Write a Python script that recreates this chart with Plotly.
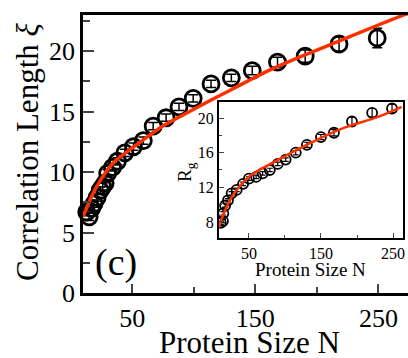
import plotly.graph_objects as go

# Main panel: correlation length vs protein size
main_N = [13, 15, 17, 19, 21.5, 24, 26, 28, 30, 34, 38, 44, 51, 59, 67, 77.5, 88, 99.5, 114, 130.5, 147.5, 168, 190.5, 218, 249]
main_xi = [6.7, 6.3, 7.0, 7.4, 7.9, 8.5, 8.8, 9.1, 9.9, 10.4, 10.9, 11.6, 12.1, 12.6, 13.8, 14.5, 15.4, 16.1, 17.3, 17.8, 18.4, 19.1, 19.6, 20.6, 21.1]
main_err = [0.3, 0.3, 0.3, 0.3, 0.3, 0.3, 0.3, 0.3, 0.3, 0.3, 0.3, 0.3, 0.3, 0.3, 0.3, 0.3, 0.3, 0.3, 0.3, 0.3, 0.35, 0.4, 0.5, 0.6, 0.8]

main_fit_N = [10, 20, 34, 50, 62, 73, 89, 111, 130, 165, 217, 268, 276]
main_fit_xi = [6.3, 8.6, 10.7, 12.0, 12.9, 13.7, 14.6, 15.8, 16.8, 18.6, 20.8, 22.9, 23.2]

# Inset: radius of gyration vs protein size
ins_N = [11, 14, 14.5, 17, 21, 26, 33, 42, 50, 60, 69, 79, 90, 101, 115, 130.5, 150, 168, 193, 221, 248.6]
ins_Rg = [7.9, 8.1, 9.0, 9.9, 10.5, 11.3, 11.7, 12.4, 13.0, 13.2, 13.6, 14.0, 14.7, 15.2, 16.0, 16.9, 17.8, 18.3, 19.6, 20.6, 21.1]
ins_err = [0.2, 0.2, 0.2, 0.2, 0.2, 0.2, 0.2, 0.2, 0.2, 0.2, 0.2, 0.2, 0.2, 0.2, 0.25, 0.3, 0.3, 0.35, 0.5, 0.5, 0.5]

ins_fit_N = [8.3, 23.6, 50, 89, 135, 180, 228, 262]
ins_fit_Rg = [7.4, 10.5, 13.2, 15.1, 17.1, 18.8, 20.1, 21.3]

FONT = "Liberation Serif"
RED = "#ff3000"
W, H = 408, 358
L, R, T, B = 83, 0, 15, 65

def px(xp):
    return (xp - L) / (W - L - R)

def py(yp):
    return (H - B - yp) / (H - T - B)

fig = go.Figure()

fig.add_trace(go.Scatter(
    x=main_N, y=main_xi, mode="markers",
    marker=dict(symbol="circle-open", size=16, color="black", line=dict(width=2.8)),
    error_y=dict(type="data", array=main_err, color="black", thickness=1.5, width=5),
    xaxis="x", yaxis="y", cliponaxis=False))
fig.add_trace(go.Scatter(
    x=main_fit_N, y=main_fit_xi, mode="lines", line=dict(color=RED, width=3.5, shape="spline"),
    xaxis="x", yaxis="y"))

fig.add_trace(go.Scatter(
    x=ins_N, y=ins_Rg, mode="markers",
    marker=dict(symbol="circle-open", size=10, color="black", line=dict(width=1.8)),
    error_y=dict(type="data", array=ins_err, color="black", thickness=1.2, width=3),
    xaxis="x2", yaxis="y2"))
fig.add_trace(go.Scatter(
    x=ins_fit_N, y=ins_fit_Rg, mode="lines", line=dict(color=RED, width=2.5, shape="spline"),
    xaxis="x2", yaxis="y2"))

ann = [
    dict(text="(c)", x=px(116), y=py(262), font=dict(size=38, family=FONT)),
    dict(text="Protein Size N", x=px(249), y=py(342), font=dict(size=31, family=FONT)),
    dict(text="Correlation Length <i>ξ</i>", x=px(27), y=py(152), textangle=-90, font=dict(size=31, family=FONT)),
    dict(text="Protein Size N", x=px(310), y=py(269), font=dict(size=19, family=FONT)),
    dict(text="R<sub>g</sub>", x=px(186), y=py(172), textangle=-90, font=dict(size=19, family=FONT)),
]
for a in ann:
    a.update(xref="paper", yref="paper", showarrow=False, xanchor="center", yanchor="middle")

fig.update_layout(
    width=W, height=H,
    margin=dict(l=L, r=R, t=T, b=B, autoexpand=False),
    paper_bgcolor="white", plot_bgcolor="white",
    showlegend=False,
    font=dict(family=FONT, color="black"),
    xaxis=dict(
        domain=[0, 1], range=[10, 274], automargin=False,
        tickvals=[50, 150, 250], ticks="inside", ticklen=9, tickwidth=1.5,
        minor=dict(tickvals=[100, 200], ticks="inside", ticklen=6, tickwidth=1.5),
        showline=True, linewidth=2.5, linecolor="black", mirror=True,
        showgrid=False, zeroline=False,
        tickfont=dict(size=26, family=FONT),
    ),
    yaxis=dict(
        domain=[0, 1], range=[0, 23], automargin=False,
        tickvals=[0, 5, 10, 15, 20], ticks="inside", ticklen=11, tickwidth=1.5,
        minor=dict(tickvals=[2.5, 7.5, 12.5, 17.5, 22.5], ticks="inside", ticklen=7, tickwidth=1.5),
        showline=True, linewidth=2.5, linecolor="black",
        showgrid=False, zeroline=False,
        tickfont=dict(size=26, family=FONT),
    ),
    xaxis2=dict(
        domain=[0.418, 0.985], anchor="y2", range=[8.3, 264], automargin=False,
        tickvals=[50, 150, 250], ticks="inside", ticklen=5, tickwidth=1,
        minor=dict(tickvals=[100, 200], ticks="inside", ticklen=3, tickwidth=1),
        showline=True, linewidth=2, linecolor="black", mirror=True,
        showgrid=False, zeroline=False,
        tickfont=dict(size=16, family=FONT),
    ),
    yaxis2=dict(
        domain=[0.198, 0.687], anchor="x2", range=[6.15, 21.85], automargin=False,
        tickvals=[8, 12, 16, 20], ticks="inside", ticklen=5, tickwidth=1,
        minor=dict(tickvals=[10, 14, 18], ticks="inside", ticklen=3, tickwidth=1),
        showline=True, linewidth=2, linecolor="black", mirror=True,
        showgrid=False, zeroline=False,
        tickfont=dict(size=16, family=FONT),
    ),
    annotations=ann,
)

fig.write_html("out.html")
